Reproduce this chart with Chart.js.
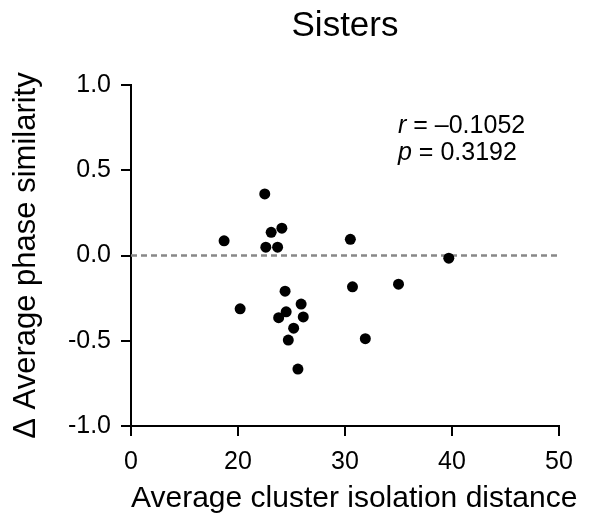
<!DOCTYPE html>
<html>
<head>
<meta charset="utf-8">
<script src="https://cdn.jsdelivr.net/npm/chart.js@4/dist/chart.umd.min.js"></script>
<style>
  html, body { margin: 0; padding: 0; background: #fff; }
  #wrap { width: 597px; height: 529px; }
</style>
</head>
<body>
<div id="wrap"><canvas id="chart" width="597" height="529"></canvas></div>
<script>
// Sisters: change in phase similarity vs cluster isolation distance
const distance   = [18.7, 22.5, 23.1, 24.1, 22.6, 23.7, 30.5, 39.7, 20.2, 24.4, 25.9, 24.5, 23.8, 26.1, 25.2, 24.7, 30.7, 35.0, 31.9, 25.6];
const deltaPhase = [0.086, 0.361, 0.136, 0.160, 0.049, 0.049, 0.095, -0.016, -0.313, -0.209, -0.285, -0.330, -0.365, -0.360, -0.426, -0.496, -0.184, -0.168, -0.488, -0.666];

// x axis is broken: the first tick (drawn at 10) is labelled "0"
const xTicks = [10, 20, 30, 40, 50];
const xTickLabels = ['0', '20', '30', '40', '50'];
const yTicks = [1.0, 0.5, 0.0, -0.5, -1.0];
const yTickLabels = ['1.0', '0.5', '0.0', '-0.5', '-1.0'];

// zero reference line
const refLineX = [10, 50];
const refLineY = [0, 0];

const titleText = 'Sisters';
const xTitleText = 'Average cluster isolation distance';
const statLines = [['r', ' = \u20130.1052'], ['p', ' = 0.3192']];

const FONT = "'Liberation Sans', Arial, Helvetica, sans-serif";

const scatterData = distance.map((d, i) => ({ x: d, y: deltaPhase[i] }));
const lineData = refLineX.map((d, i) => ({ x: d, y: refLineY[i] }));

// title, x axis title (runs past the plot edge) and r/p text
const textPlugin = {
    id: 'textPlugin',
    afterDraw(chart) {
        const ctx = chart.ctx;
        const area = chart.chartArea;
        ctx.save();
        ctx.fillStyle = '#000';
        ctx.textBaseline = 'middle';
        ctx.textAlign = 'center';
        ctx.font = '35px ' + FONT;
        ctx.fillText(titleText, (area.left + area.right) / 2, 26);

        ctx.textAlign = 'left';
        ctx.font = '30px ' + FONT;
        ctx.fillText(xTitleText, area.left, 499);

        let y = 126.5;
        statLines.forEach(line => {
            let x = area.left + 267;
            ctx.font = 'italic 25px ' + FONT;
            ctx.fillText(line[0], x, y);
            x += ctx.measureText(line[0]).width;
            ctx.font = '25px ' + FONT;
            ctx.fillText(line[1], x, y);
            y += 27;
        });
        ctx.restore();
    }
};

new Chart(document.getElementById('chart'), {
    type: 'scatter',
    data: {
        datasets: [
            {
                label: 'Sisters',
                data: scatterData,
                backgroundColor: '#000',
                borderColor: '#000',
                pointRadius: 5.5,
                pointHoverRadius: 5.5,
                borderWidth: 0,
                order: 1
            },
            {
                type: 'line',
                label: 'zero',
                data: lineData,
                borderColor: '#888888',
                borderWidth: 2.5,
                borderDash: [6, 4],
                pointRadius: 0,
                fill: false,
                order: 2
            }
        ]
    },
    options: {
        responsive: false,
        animation: false,
        events: [],
        layout: { padding: { top: 85, right: 38, bottom: 0, left: 0 } },
        plugins: {
            legend: { display: false },
            tooltip: { enabled: false },
            title: { display: false }
        },
        scales: {
            x: {
                type: 'linear',
                min: 10, max: 50,
                afterBuildTicks: s => { s.ticks = xTicks.map(v => ({ value: v })); },
                afterFit: s => { s.height = 103; },
                ticks: {
                    color: '#000',
                    font: { family: FONT, size: 25 },
                    padding: 11,
                    maxRotation: 0,
                    callback: (v, i) => xTickLabels[i]
                },
                grid: { drawOnChartArea: false, tickLength: 10, tickColor: '#000', lineWidth: 2 },
                border: { display: true, color: '#000', width: 2 },
                title: { display: false }
            },
            y: {
                type: 'linear',
                min: -1, max: 1,
                afterBuildTicks: s => { s.ticks = yTicks.map(v => ({ value: v })); },
                afterFit: s => { s.width = 131; },
                ticks: {
                    color: '#000',
                    font: { family: FONT, size: 25 },
                    padding: 10,
                    callback: (v, i) => yTickLabels[i]
                },
                grid: { drawOnChartArea: false, tickLength: 10, tickColor: '#000', lineWidth: 2 },
                border: { display: true, color: '#000', width: 2 },
                title: {
                    display: true,
                    text: '\u0394 Average phase similarity',
                    color: '#000',
                    font: { family: FONT, size: 31 },
                    padding: { top: 8, bottom: 0 }
                }
            }
        }
    },
    plugins: [textPlugin]
});
</script>
</body>
</html>
